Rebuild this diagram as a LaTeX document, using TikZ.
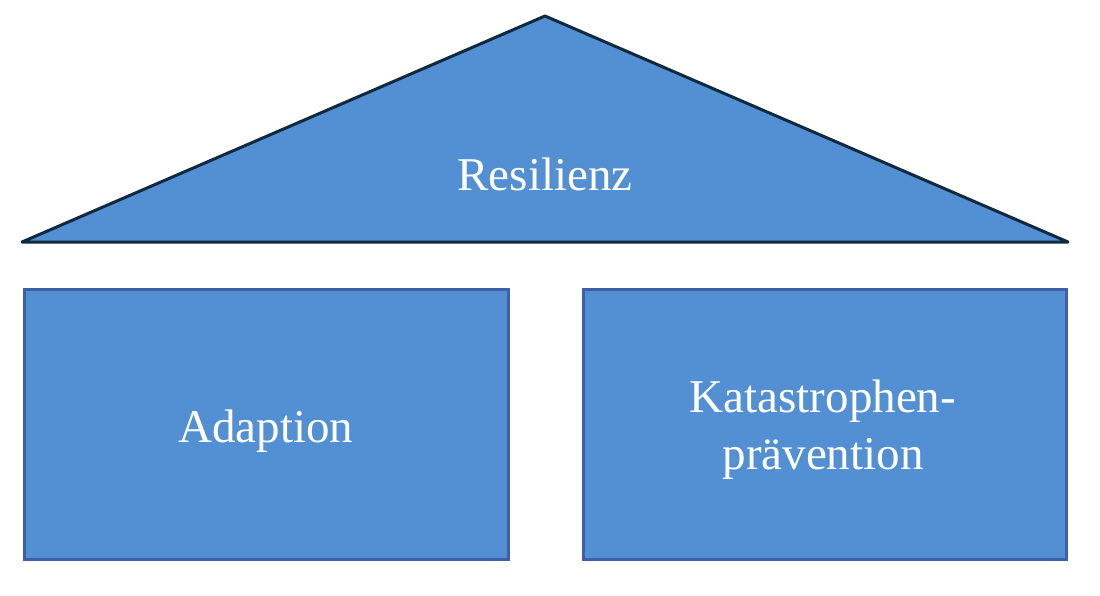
\documentclass[tikz,border=0pt]{standalone}
\usepackage{fontspec}
\setmainfont{Liberation Serif}
\definecolor{boxfill}{HTML}{528FD3}
\definecolor{roofline}{HTML}{0F2A3E}
\definecolor{boxline}{HTML}{3F5FA6}
\begin{document}
\begin{tikzpicture}[x=1pt,y=-1pt,
  lbl/.style={text=white,font=\fontsize{47}{57}\selectfont,align=center},
  pillar/.style={fill=boxfill,draw=boxline,line width=3pt}]
\useasboundingbox (0,0) rectangle (1100,596);
\coordinate (apex) at (545,16);
\coordinate (bl) at (22,242);
\coordinate (br) at (1068,242);
\draw[fill=boxfill,draw=roofline,line width=3pt,line join=round] (bl) -- (apex) -- (br) -- cycle;
\node[lbl] (roof) at (545,174) {Resilienz};
\draw[pillar] (24,289) rectangle (508,559);
\draw[pillar] (583,289) rectangle (1066,559);
\node[lbl] (adapt) at (266,431) {Adaption};
\node[lbl] (kat) at (823,430) {Katastrophen-\\prävention};
\end{tikzpicture}
\end{document}
